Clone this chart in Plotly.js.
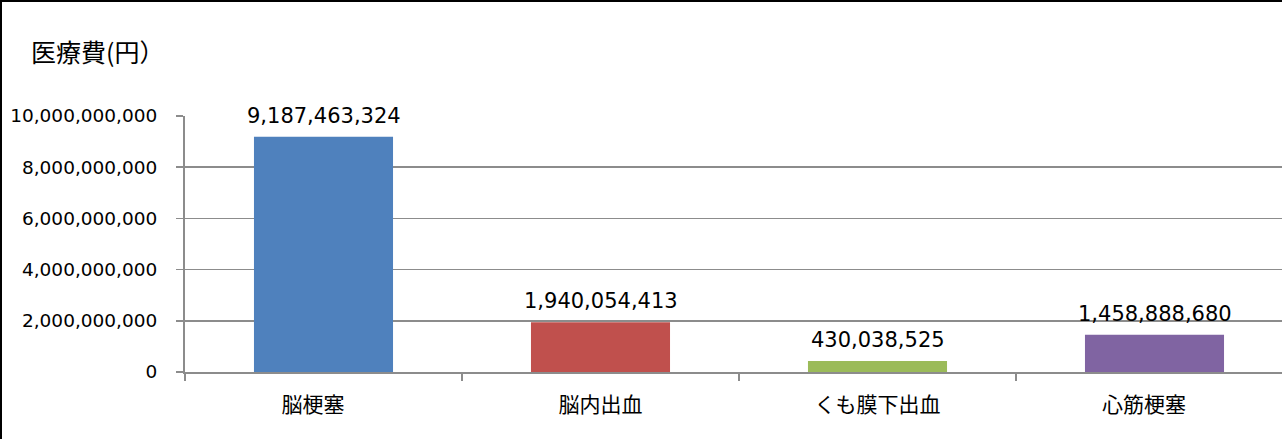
<!DOCTYPE html>
<html><head><meta charset="utf-8">
<script src="https://cdn.plot.ly/plotly-3.0.1.min.js"></script>
<style>
html,body{margin:0;padding:0;background:#fff;overflow:hidden;}
#wrap{position:relative;width:1282px;height:439px;overflow:hidden;}
#chart{width:1310px;height:439px;}
#frame{position:absolute;left:0;top:0;width:1400px;height:500px;border-left:2px solid #000;border-top:2px solid #000;pointer-events:none;}
</style></head>
<body>
<div id="wrap"><div id="chart"></div><div id="frame"></div></div>
<script>
const categories = ["脳梗塞", "脳内出血", "くも膜下出血", "心筋梗塞"];
const categoryLabels = ["脳梗塞　", "脳内出血", "くも膜下出血", "心筋梗塞　"];
const costs = [9187463324, 1940054413, 430038525, 1458888680];
const barColors = ["#4F81BD", "#C0504D", "#9BBB59", "#8064A2"];
const yTickVals = [0, 2000000000, 4000000000, 6000000000, 8000000000, 10000000000];
const yTickText = ["0", "2,000,000,000", "4,000,000,000", "6,000,000,000", "8,000,000,000", "10,000,000,000"];
const titleText = "医療費(円）";

const numFont = "DejaVu Sans, Verdana, sans-serif";
const cjkFont = "Noto Sans CJK JP, sans-serif";

const trace = {
  type: "bar",
  x: categories,
  y: costs,
  marker: {color: barColors, line: {width: 0}},
  hoverinfo: "none"
};

const annotations = categories.map((c, i) => ({
  x: c, y: costs[i], xref: "x", yref: "y",
  text: costs[i].toLocaleString("en-US"),
  showarrow: false, xanchor: "center", yanchor: "middle", yshift: 21,
  font: {family: numFont, size: 21, color: "#000"}
}));

const layout = {
  width: 1310, height: 439,
  margin: {l: 185, r: 17, t: 116, b: 67, pad: 0},
  paper_bgcolor: "#fff", plot_bgcolor: "#fff",
  showlegend: false,
  bargap: 0.498,
  title: {
    text: titleText, xref: "container", yref: "container",
    x: 31/1310, xanchor: "left", y: 1 - 53/439, yanchor: "middle",
    font: {family: cjkFont, size: 25, color: "#000"}
  },
  xaxis: {
    type: "category",
    tickvals: categories, ticktext: categoryLabels,
    tickson: "boundaries",
    ticks: "outside", ticklen: 7, tickwidth: 1.5, tickcolor: "#8c8c8c",
    showline: true, linecolor: "#8c8c8c", linewidth: 2,
    showgrid: false, zeroline: false,
    ticklabelstandoff: 13,
    tickfont: {family: cjkFont, size: 21, color: "#000"}
  },
  yaxis: {
    range: [0, 10000000000],
    tickvals: yTickVals, ticktext: yTickText,
    ticks: "outside", ticklen: 7, tickwidth: 1.5, tickcolor: "#8c8c8c",
    showline: true, linecolor: "#8c8c8c", linewidth: 2,
    showgrid: true, gridcolor: "#8c8c8c", gridwidth: 1.5,
    zeroline: false,
    ticklabelstandoff: 15,
    tickfont: {family: numFont, size: 18.5, color: "#000"}
  },
  annotations: annotations
};

Plotly.newPlot("chart", [trace], layout, {displayModeBar: false, staticPlot: true});
</script>
</body></html>
